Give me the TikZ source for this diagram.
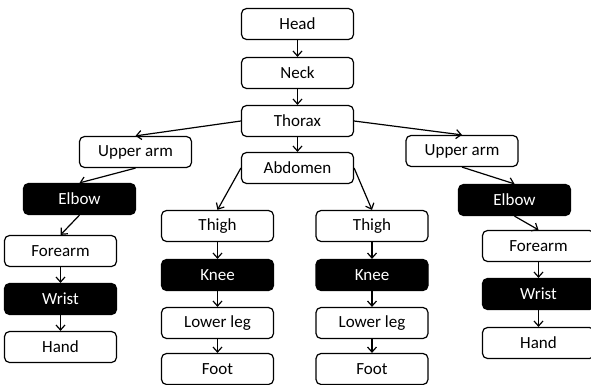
\documentclass[tikz,border=0pt]{standalone}
\usepackage{fontspec}
\setmainfont{Carlito}
\usetikzlibrary{arrows.meta}

\begin{document}
\begin{tikzpicture}[
    x=1pt,y=-1pt,
    every node/.style={font=\fontsize{17}{19}\selectfont},
    box/.style={draw=black, line width=1.2pt, rounded corners=5pt, fill=white, minimum width=112pt, minimum height=31pt, inner sep=0pt},
    joint/.style={box, fill=black, text=white},
    arr/.style={draw=black, line width=1.2pt, -{Straight Barb[length=5pt,width=9pt]}}
]
    \useasboundingbox (0,0) rectangle (591,385);

    % trunk
    \node[box] (head) at (297.5,24) {Head};
    \node[box] (neck) at (297.5,73) {Neck};
    \node[box] (thorax) at (297.5,121) {Thorax};
    \node[box] (abdomen) at (297.5,168) {Abdomen};

    % arms
    \node[box] (uarmL) at (135.5,152) {Upper arm};
    \node[joint] (elbowL) at (79.5,199) {Elbow};
    \node[box] (forearmL) at (60.5,251) {Forearm};
    \node[joint] (wristL) at (60.5,299) {Wrist};
    \node[box] (handL) at (60.5,347) {Hand};

    \node[box] (uarmR) at (462,151) {Upper arm};
    \node[joint] (elbowR) at (514.5,200) {Elbow};
    \node[box] (forearmR) at (538.5,246) {Forearm};
    \node[joint] (wristR) at (538.5,294) {Wrist};
    \node[box] (handR) at (538.5,343) {Hand};

    % legs
    \foreach \s/\x in {L/217.5,R/372} {
        \node[box] (thigh\s) at (\x,226) {Thigh};
        \node[joint] (knee\s) at (\x,275) {Knee};
        \node[box] (lowerleg\s) at (\x,323) {Lower leg};
        \node[box] (foot\s) at (\x,369) {Foot};
    }

    % connectors
    \foreach \a/\b in {head/neck,neck/thorax,thorax/abdomen,
        forearmL/wristL,wristL/handL,forearmR/wristR,wristR/handR,
        thighL/kneeL,kneeL/lowerlegL,lowerlegL/footL,
        thighR/kneeR,kneeR/lowerlegR,lowerlegR/footR} {
        \draw[arr] (\a) -- (\b);
    }
    \draw[arr] (thorax.west) -- (uarmL.north);
    \draw[arr] (thorax.east) -- (uarmR.north);
    \draw[arr] (uarmL.south) -- (elbowL.north);
    \draw[arr] (uarmR.south) -- (elbowR.north);
    \draw[arr] (elbowL.south) -- (forearmL.north);
    \draw[arr] (elbowR.south) -- (forearmR.north);
    \draw[arr] (abdomen.west) -- (thighL.north);
    \draw[arr] (abdomen.east) -- (thighR.north);
\end{tikzpicture}
\end{document}
